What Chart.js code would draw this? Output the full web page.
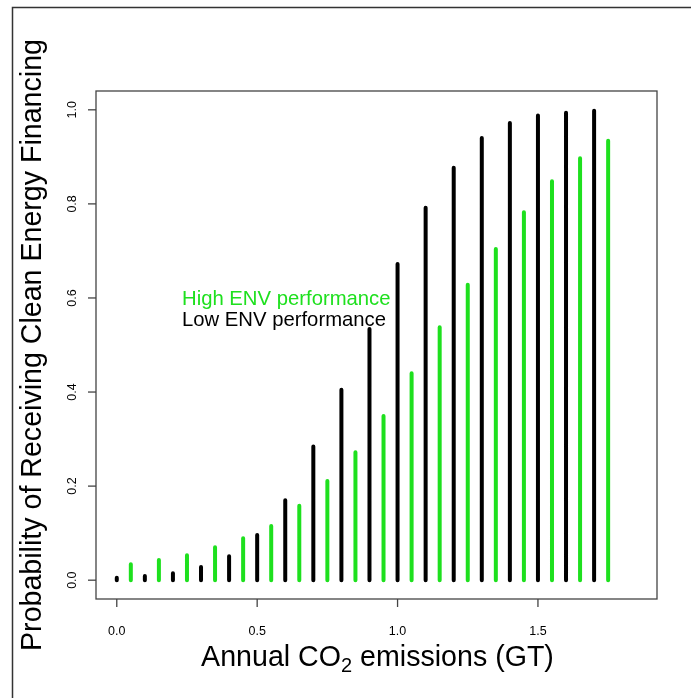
<!DOCTYPE html>
<html>
<head>
<meta charset="utf-8">
<script src="https://cdn.jsdelivr.net/npm/chart.js@4.4.1/dist/chart.umd.min.js"></script>
<style>
  body { margin: 0; background: #fff; }
  #grafico { display: block; }
</style>
</head>
<body>
<canvas id="grafico" width="691" height="698"></canvas>
<script>
// Low ENV performance (black)
const lowX = [0, 0.1, 0.2, 0.3, 0.4, 0.5, 0.6, 0.7, 0.8, 0.9, 1.0, 1.1, 1.2, 1.3, 1.4, 1.5, 1.6, 1.7];
const lowProb = [0.005, 0.009, 0.015, 0.028, 0.051, 0.096, 0.170, 0.284, 0.405, 0.534, 0.672, 0.792, 0.877, 0.940, 0.972, 0.988, 0.994, 0.998];

// High ENV performance (green)
const highX = [0.05, 0.15, 0.25, 0.35, 0.45, 0.55, 0.65, 0.75, 0.85, 0.95, 1.05, 1.15, 1.25, 1.35, 1.45, 1.55, 1.65, 1.75];
const highProb = [0.034, 0.043, 0.053, 0.070, 0.089, 0.115, 0.158, 0.211, 0.272, 0.349, 0.440, 0.538, 0.628, 0.704, 0.782, 0.848, 0.897, 0.934];

const xTicks = [0, 0.5, 1, 1.5];
const yTicks = [0, 0.2, 0.4, 0.6, 0.8, 1];

const verde = '#1ee01e';
const fonte = '"Liberation Sans", Arial, Helvetica, sans-serif';

// cada valor vira um segmento vertical de 0 até p (como segments() do R)
function segmentos(xs, ps) {
    const pts = [];
    xs.forEach((x, i) => {
        pts.push({ x: x, y: 0 }, { x: x, y: ps[i] }, { x: x, y: null });
    });
    return pts;
}

// eixos, caixa e textos ao estilo do R
const decoracao = {
    id: 'decoracao',
    afterDraw(chart) {
        const ctx = chart.ctx;
        const area = chart.chartArea;
        const sx = chart.scales.x;
        const sy = chart.scales.y;
        ctx.save();

        // moldura externa (só esquerda e topo)
        ctx.strokeStyle = '#333';
        ctx.lineWidth = 1.5;
        ctx.beginPath();
        ctx.moveTo(12.5, 698);
        ctx.lineTo(12.5, 7.5);
        ctx.lineTo(691, 7.5);
        ctx.stroke();

        // caixa do gráfico
        ctx.strokeStyle = '#444';
        ctx.lineWidth = 1.3;
        ctx.strokeRect(area.left, area.top, area.right - area.left, area.bottom - area.top);

        // ticks do eixo x
        ctx.fillStyle = '#000';
        ctx.font = '12.5px ' + fonte;
        ctx.textAlign = 'center';
        ctx.textBaseline = 'alphabetic';
        xTicks.forEach(v => {
            const px = sx.getPixelForValue(v);
            ctx.beginPath();
            ctx.moveTo(px, area.bottom);
            ctx.lineTo(px, area.bottom + 8);
            ctx.stroke();
            ctx.fillText(v.toFixed(1), px, 635);
        });

        // ticks do eixo y (rótulos verticais)
        yTicks.forEach(v => {
            const py = sy.getPixelForValue(v);
            ctx.beginPath();
            ctx.moveTo(area.left, py);
            ctx.lineTo(area.left - 8, py);
            ctx.stroke();
            ctx.save();
            ctx.translate(76, py);
            ctx.rotate(-Math.PI / 2);
            ctx.fillText(v.toFixed(1), 0, 0);
            ctx.restore();
        });

        // título do eixo y
        ctx.save();
        ctx.font = '28.6px ' + fonte;
        ctx.translate(41, 345);
        ctx.rotate(-Math.PI / 2);
        ctx.fillText('Probability of Receiving Clean Energy Financing', 0, 0);
        ctx.restore();

        // título do eixo x com subscrito
        const parte1 = 'Annual CO';
        const parte2 = '2';
        const parte3 = ' emissions (GT)';
        ctx.font = '28.6px ' + fonte;
        const w1 = ctx.measureText(parte1).width;
        const w3 = ctx.measureText(parte3).width;
        ctx.font = '20px ' + fonte;
        const w2 = ctx.measureText(parte2).width;
        const total = w1 + w2 + w3;
        let x0 = (area.left + area.right) / 2 - total / 2 + 1;
        ctx.textAlign = 'left';
        ctx.font = '28.6px ' + fonte;
        ctx.fillText(parte1, x0, 666);
        ctx.font = '20px ' + fonte;
        ctx.fillText(parte2, x0 + w1, 672);
        ctx.font = '28.6px ' + fonte;
        ctx.fillText(parte3, x0 + w1 + w2, 666);

        // legenda em texto
        ctx.font = '20.3px ' + fonte;
        ctx.fillStyle = verde;
        ctx.fillText('High ENV performance', 182, 305);
        ctx.fillStyle = '#000';
        ctx.fillText('Low ENV performance', 182, 325.5);

        ctx.restore();
    }
};

const grafico = document.getElementById('grafico');

new Chart(grafico, {
    type: 'scatter',
    data: {
        datasets: [{
            label: 'Low ENV performance',
            data: segmentos(lowX, lowProb),
            showLine: true,
            spanGaps: false,
            borderColor: '#000',
            borderWidth: 4,
            borderCapStyle: 'round',
            pointRadius: 0
        }, {
            label: 'High ENV performance',
            data: segmentos(highX, highProb),
            showLine: true,
            spanGaps: false,
            borderColor: verde,
            borderWidth: 4,
            borderCapStyle: 'round',
            pointRadius: 0
        }]
    },
    options: {
        responsive: false,
        animation: false,
        devicePixelRatio: 1,
        layout: { padding: { left: 96, top: 91, right: 34, bottom: 99 } },
        plugins: {
            legend: { display: false },
            tooltip: { enabled: false }
        },
        scales: {
            x: { type: 'linear', min: -0.074, max: 1.924, display: false },
            y: { min: -0.04, max: 1.04, display: false }
        }
    },
    plugins: [decoracao]
});
</script>
</body>
</html>
